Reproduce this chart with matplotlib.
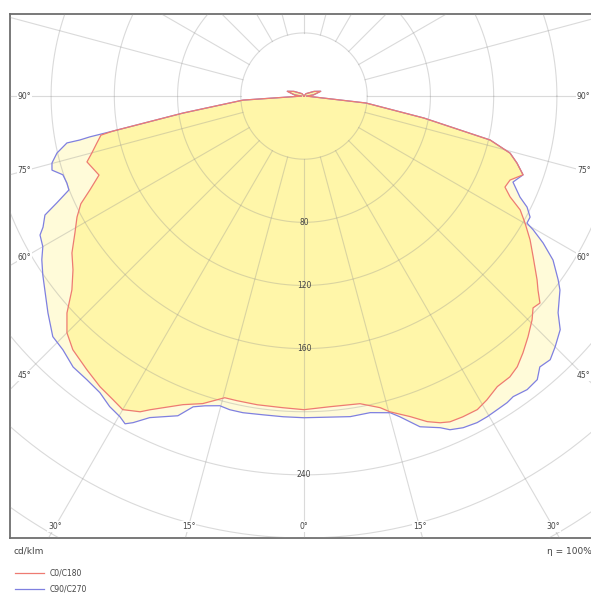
# -*- coding: utf-8 -*-
"""
Photometric polar diagram (cd/klm), C0/C180 and C90/C270 planes.
Output: out.png
"""
import numpy as np
import matplotlib
matplotlib.use('Agg')
import matplotlib.pyplot as plt

# gamma angle (deg) -> luminous intensity (cd/klm)
# C0 (right half, red)
gamma_c0 = [0, 4.8, 10.3, 13.7, 15.2, 18.3, 20.7, 22.6, 24.1, 26.3, 28.9, 31.0, 33.6, 36.2,
            38.2, 40.4, 42.9, 45.5, 47.2, 48.7, 50.3, 51.7, 54.9, 57.5, 60.1, 62.2, 63.9,
            65.6, 67.8, 70.2, 72.5, 74.5, 76.7, 79.6, 83.6, 90, 97, 106, 115, 140, 180]
val_c0 = [198.7, 197.5, 198.1, 203.2, 207.3, 213.9, 220.5, 224.2, 226.1, 226.7, 226.9, 224.6,
          221.0, 220.5, 218.2, 213.7, 208.2, 202.3, 197.5, 198.7, 192.4, 187.9, 177.2, 169.6,
          161.3, 154.6, 145.2, 139.6, 140.8, 147.3, 141.3, 135.3, 121.0, 77.2, 39.5,
          1.5, 6, 11, 7, 2, 0]

# C180 (left half, red)
gamma_c180 = [0, 3.9, 8.6, 12.4, 14.7, 18.2, 21.4, 26.1, 27.4, 30.0, 32.1, 35.0, 38.4, 42.3,
              45.0, 47.5, 50.1, 53.0, 55.9, 59.1, 61.9, 64.2, 66.3, 68.9, 73.1, 75.0, 77.2,
              79.1, 79.6, 82.0, 86.2, 90, 97, 106, 115, 140, 180]
val_c180 = [198.7, 197.9, 197.8, 197.6, 197.6, 205.1, 210.0, 221.3, 225.3, 229.4, 227.2,
            224.9, 221.2, 217.3, 212.1, 203.4, 191.4, 183.0, 177.3, 168.9, 162.8, 156.8,
            147.9, 139.0, 143.5, 138.9, 134.4, 130.8, 122.9, 77.3, 38.7,
            1.5, 6, 11, 7, 2, 0]

# C90 (right half, blue)
gamma_c90 = [0, 8.2, 11.8, 15.2, 16.6, 19.3, 22.3, 23.6, 25.6, 27.9, 29.7, 31.6, 33.5, 34.8,
             37.2, 39.4, 41.0, 43.0, 45.0, 47.6, 49.5, 52.8, 54.1, 56.6, 58.4, 59.7, 60.3,
             61.8, 63.5, 64.9, 67.6, 70.2, 72.5, 74.5, 76.7, 79.6, 83.6, 90, 97, 106, 115,
             140, 180]
val_c90 = [203.8, 205.2, 204.9, 207.9, 212.0, 222.0, 227.1, 230.7, 233.0, 234.1, 233.9,
           233.3, 232.9, 231.9, 233.5, 232.5, 227.4, 228.4, 224.7, 219.5, 211.4, 203.3,
           198.5, 188.7, 177.6, 167.9, 162.4, 162.3, 157.7, 150.9, 143.0, 147.3, 141.3,
           135.3, 121.0, 77.2, 39.5, 1.5, 6, 11, 7, 2, 0]

# C270 (left half, blue)
gamma_c270 = [0, 3.7, 7.3, 10.9, 13.3, 15.2, 17.7, 19.6, 21.5, 25.6, 27.6, 28.6, 29.8, 32.0,
              34.5, 37.4, 40.4, 43.5, 46.2, 49.7, 53.2, 55.6, 58.0, 60.0, 62.2, 63.3, 65.3,
              66.6, 68.2, 69.8, 71.9, 73.6, 75.1, 77.0, 78.8, 78.9, 79.2, 79.6, 82.0, 86.2,
              90, 97, 106, 115, 140, 180]
val_c270 = [203.8, 203.6, 203.6, 204.3, 204.2, 203.3, 206.0, 209.0, 217.7, 225.9, 233.5,
            236.5, 234.2, 232.0, 228.0, 226.2, 225.4, 221.6, 220.2, 212.4, 204.8, 200.3,
            195.6, 190.8, 188.8, 184.8, 180.4, 170.4, 160.2, 159.8, 160.5, 166.2, 165.0,
            160.4, 152.9, 144.5, 137.9, 122.9, 77.3, 38.7, 1.5, 6, 11, 7, 2, 0]

ring_values = [40, 80, 120, 160, 200, 240, 280, 320, 360, 400]
ring_labels = [80, 120, 160, 240]
angle_labels_side = [90, 75, 60, 45]
angle_labels_bottom = [30, 15, 0]

RED = '#ee7b72'
BLUE = '#7f80e0'
FILL_C0 = '#fff6a9'
FILL_C90 = '#fffbd9'
TXT = '#444444'


def half_xy(gamma, val, side):
    g = np.radians(np.asarray(gamma, dtype=float))
    v = np.asarray(val, dtype=float)
    return side * v * np.sin(g), -v * np.cos(g)


def outline(g_right, v_right, g_left, v_left):
    xr, yr = half_xy(g_right, v_right, 1)
    xl, yl = half_xy(g_left, v_left, -1)
    return np.concatenate([xr[::-1], xl]), np.concatenate([yr[::-1], yl])


W, H = 591, 595
fig = plt.figure(figsize=(W / 100, H / 100), dpi=100)
# axes box: left 10px, top 14px, bottom 538px, right edge beyond the image
ax = fig.add_axes([10 / W, (H - 538) / H, 588 / W, 524 / H])
ax.set_xlim(-186, 186)
ax.set_ylim(-280, 52)
ax.set_xticks([])
ax.set_yticks([])
for s in ax.spines.values():
    s.set_color('#6e6e6e')
    s.set_linewidth(1.3)

x90, y90 = outline(gamma_c90, val_c90, gamma_c270, val_c270)
x0, y0 = outline(gamma_c0, val_c0, gamma_c180, val_c180)
ax.fill(x90, y90, color=FILL_C90, lw=0, zorder=1)
ax.fill(x0, y0, color=FILL_C0, lw=0, zorder=2)

# polar grid on top of the fills, semi transparent
t = np.linspace(0, 2 * np.pi, 721)
for r in ring_values:
    ax.plot(r * np.cos(t), r * np.sin(t), color='#8f8f8f', lw=0.8, alpha=0.33, zorder=3)
for a in range(0, 360, 15):
    ar = np.radians(a)
    ax.plot([40 * np.cos(ar), 600 * np.cos(ar)], [40 * np.sin(ar), 600 * np.sin(ar)],
            color='#8f8f8f', lw=0.8, alpha=0.33, zorder=3)

ax.plot(x90, y90, color=BLUE, lw=0.9, zorder=4)
ax.plot(x0, y0, color=RED, lw=0.9, zorder=5)

for r in ring_labels:
    ax.text(0, -r, str(r), fontsize=5.5, color=TXT, ha='center', va='center', zorder=6)

xs = 177
for g in angle_labels_side:
    gr = np.radians(g)
    y = -xs * np.cos(gr) / np.sin(gr)
    for side in (-1, 1):
        ax.text(side * xs, y, f'{g}°', fontsize=5.5, color=TXT, ha='center', va='center',
                zorder=6, bbox=dict(fc='white', ec='none', pad=0.6))
yb = -272.8
for g in angle_labels_bottom:
    xb = -yb * np.tan(np.radians(g))
    for side in ((1,) if g == 0 else (-1, 1)):
        ax.text(side * xb, yb, f'{g}°', fontsize=5.5, color=TXT, ha='center', va='center',
                zorder=6, bbox=dict(fc='white', ec='none', pad=0.6))

# footer texts and legend (figure pixel coords)
def fx(px):
    return px / W


def fy(py):
    return 1 - py / H


fig.text(fx(14), fy(551), 'cd/klm', fontsize=6.5, color=TXT, ha='left', va='center')
fig.text(fx(592), fy(551), 'η = 100%', fontsize=6.5, color=TXT, ha='right', va='center')
fig.add_artist(plt.Line2D([fx(15), fx(44)], [fy(573), fy(573)], color=RED, lw=0.9))
fig.add_artist(plt.Line2D([fx(15), fx(44)], [fy(589), fy(589)], color=BLUE, lw=0.9))
fig.text(fx(50), fy(573), 'C0/C180', fontsize=5.5, color=TXT, ha='left', va='center')
fig.text(fx(50), fy(589), 'C90/C270', fontsize=5.5, color=TXT, ha='left', va='center')

fig.savefig('out.png', dpi=100, facecolor='white')
